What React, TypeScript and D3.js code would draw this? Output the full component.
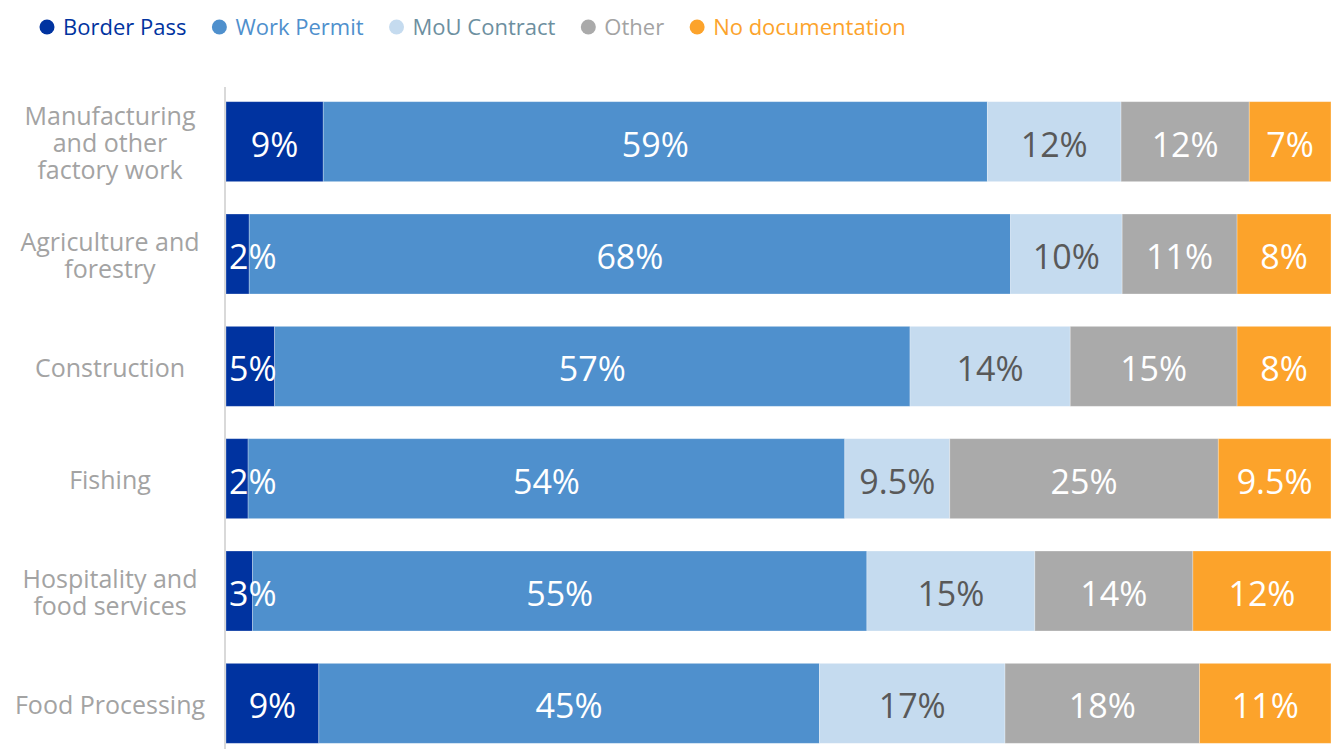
import React from "react";
import * as d3 from "d3";

const categories = [
  "Manufacturing\nand other\nfactory work",
  "Agriculture and\nforestry",
  "Construction",
  "Fishing",
  "Hospitality and\nfood services",
  "Food Processing",
];

const seriesNames = ["Border Pass", "Work Permit", "MoU Contract", "Other", "No documentation"];

const borderPass = [8.8, 2.1, 4.4, 2.0, 2.4, 8.4];
const workPermit = [60.1, 68.9, 57.5, 54.0, 55.6, 45.3];
const mouContract = [12.1, 10.1, 14.5, 9.5, 15.2, 16.8];
const other = [11.6, 10.4, 15.1, 24.3, 14.3, 17.6];
const noDocumentation = [7.4, 8.5, 8.5, 10.2, 12.5, 11.9];

const borderPassLabels = ["9%", "2%", "5%", "2%", "3%", "9%"];
const workPermitLabels = ["59%", "68%", "57%", "54%", "55%", "45%"];
const mouContractLabels = ["12%", "10%", "14%", "9.5%", "15%", "17%"];
const otherLabels = ["12%", "11%", "15%", "25%", "14%", "18%"];
const noDocumentationLabels = ["7%", "8%", "8%", "9.5%", "12%", "11%"];

const xDomain = [0, 100];

const W = 1331;
const H = 749;
const FONT = "'Open Sans', 'Noto Sans', sans-serif";

const fills = ["#0033a0", "#4f90cd", "#c5dbef", "#aaaaaa", "#fca32b"];
const legendTextColors = ["#0033a0", "#4f90cd", "#6d8fa0", "#a3a3a3", "#fca32b"];
const labelColors = ["#ffffff", "#ffffff", "#595959", "#ffffff", "#ffffff"];

let measureCtx: CanvasRenderingContext2D | null = null;
function measure(text: string, font: string): number {
  if (!measureCtx) {
    const c = document.createElement("canvas");
    measureCtx = c.getContext("2d");
  }
  if (!measureCtx) return text.length * 11;
  measureCtx.font = font;
  return measureCtx.measureText(text).width;
}

export default function App() {
  const values = [borderPass, workPermit, mouContract, other, noDocumentation];
  const labels = [borderPassLabels, workPermitLabels, mouContractLabels, otherLabels, noDocumentationLabels];

  const rows = categories.map((c, i) => {
    const r: any = { cat: c };
    seriesNames.forEach((s, k) => (r[s] = values[k][i]));
    return r;
  });
  const stacked = d3.stack<any>().keys(seriesNames)(rows);

  const x = d3.scaleLinear().domain(xDomain).range([226, 1331]);
  const y = d3
    .scaleBand<string>()
    .domain(categories)
    .range([85.5, 759.5])
    .paddingInner(0.288)
    .paddingOuter(0.144);

  // legend layout
  const legendFontSize = 22;
  const legendFont = `${legendFontSize}px 'Open Sans'`;
  let lx = 47;
  const legendItems = seriesNames.map((s, k) => {
    const item = { s, k, cx: lx, tx: lx + 16 };
    lx = lx + 16 + measure(s, legendFont) + 33;
    return item;
  });

  const labelSize = 34;
  const labelFont = `${labelSize}px 'Open Sans'`;
  const [x0, x1] = x.range();

  return (
    <svg
      width={W}
      height={H}
      style={{ position: "absolute", left: 0, top: 0, background: "#fff" }}
      fontFamily={FONT}
    >
      {/* legend */}
      <g>
        {legendItems.map((it) => (
          <g key={it.s}>
            <circle cx={it.cx} cy={27} r={7.5} fill={fills[it.k]} />
            <text
              x={it.tx}
              y={27}
              dy="0.35em"
              fontSize={legendFontSize}
              fill={legendTextColors[it.k]}
            >
              {it.s}
            </text>
          </g>
        ))}
      </g>

      {/* bars */}
      {stacked.map((layer, k) => (
        <g key={layer.key}>
          {layer.map((d, i) => (
            <rect
              key={i}
              x={x(d[0])}
              y={y(categories[i])}
              width={x(d[1]) - x(d[0])}
              height={y.bandwidth()}
              fill={fills[k]}
              stroke="#ffffff"
              strokeOpacity={0.35}
              strokeWidth={0.8}
            />
          ))}
        </g>
      ))}

      {/* data labels */}
      {stacked.map((layer, k) => (
        <g key={"l" + layer.key}>
          {layer.map((d, i) => {
            const t = labels[k][i];
            const w = measure(t, labelFont);
            let cx = (x(d[0]) + x(d[1])) / 2;
            cx = Math.max(cx, x0 + 3 + w / 2);
            cx = Math.min(cx, x1 - 4 - w / 2);
            return (
              <text
                key={i}
                x={cx}
                y={(y(categories[i]) as number) + y.bandwidth() / 2 + 3}
                dy="0.35em"
                textAnchor="middle"
                fontSize={labelSize}
                fill={labelColors[k]}
              >
                {t}
              </text>
            );
          })}
        </g>
      ))}

      {/* axis line */}
      <line x1={225} x2={225} y1={87} y2={H} stroke="#d9d9d9" strokeWidth={2} />

      {/* category labels */}
      {categories.map((c) => {
        const lines = c.split("\n");
        const cy = (y(c) as number) + y.bandwidth() / 2 + 2;
        const lh = 27;
        const start = cy - ((lines.length - 1) * lh) / 2;
        return (
          <text key={c} textAnchor="middle" fontSize={25} fill="#a3a3a3">
            {lines.map((ln, j) => (
              <tspan key={j} x={110} y={start + j * lh} dy="0.35em">
                {ln}
              </tspan>
            ))}
          </text>
        );
      })}
    </svg>
  );
}
